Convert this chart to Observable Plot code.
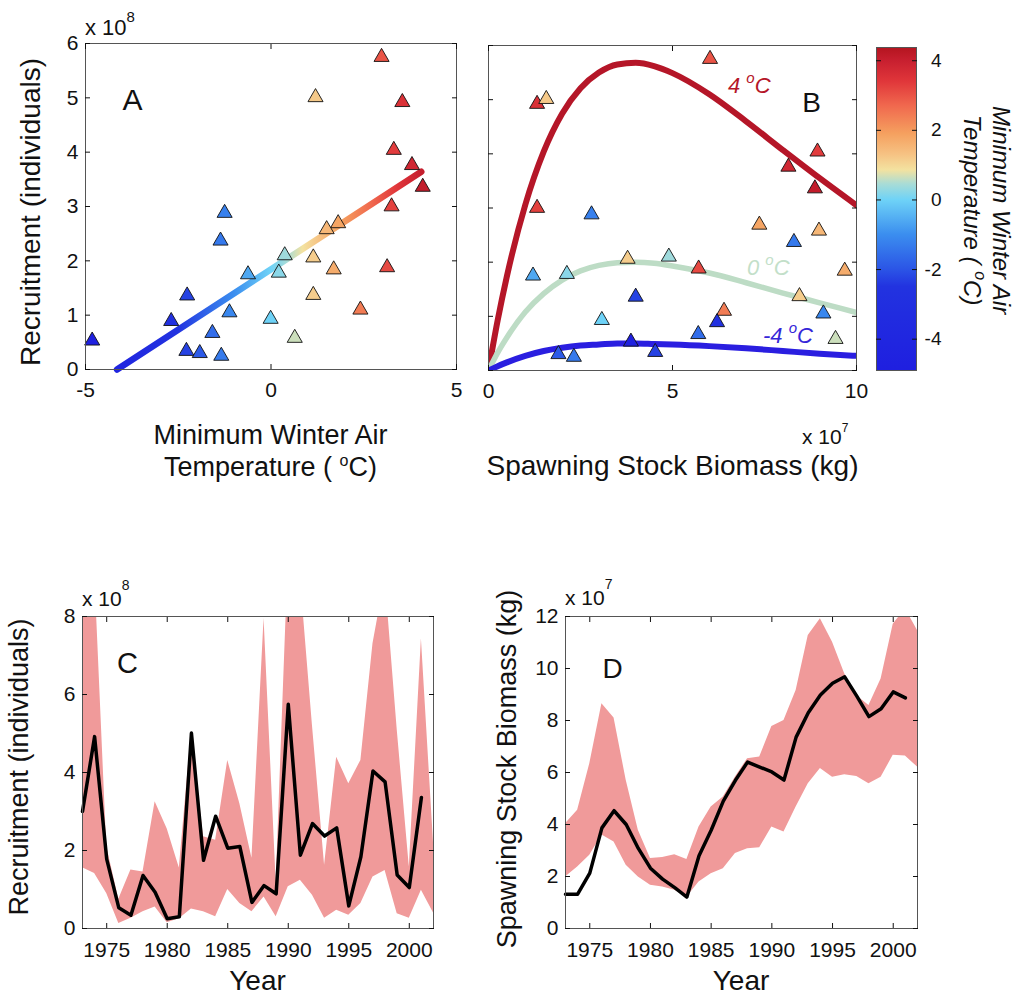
<!DOCTYPE html>
<html><head><meta charset="utf-8">
<script src="https://cdn.jsdelivr.net/npm/d3@7"></script>
<script src="https://cdn.jsdelivr.net/npm/@observablehq/plot@0.6"></script>
<style>
body{margin:0;background:#fff;}
#fig{position:relative;width:1017px;height:998px;overflow:hidden;background:#fff;}
.pl{position:absolute;}
</style></head>
<body><div id="fig"></div>
<script>
// ---------- data ----------
const years   = [1973,1974,1975,1976,1977,1978,1979,1980,1981,1982,1983,1984,1985,1986,1987,1988,1989,1990,1991,1992,1993,1994,1995,1996,1997,1998,1999,2000,2001];
// recruitment (x 10^8 individuals)
const recruit = [3.00,4.92,1.78,0.53,0.34,1.36,0.93,0.25,0.30,5.01,1.75,2.88,2.06,2.10,0.67,1.10,0.89,5.75,1.88,2.69,2.37,2.58,0.58,1.84,4.04,3.76,1.37,1.05,3.36];
// spawning stock biomass (x 10^7 kg)
const ssb     = [1.32,1.32,2.13,3.87,4.53,4.00,3.08,2.32,1.90,1.57,1.21,2.80,3.78,4.90,5.70,6.40,6.21,6.02,5.71,7.36,8.30,8.98,9.43,9.68,8.94,8.15,8.45,9.10,8.87];
// minimum winter air temperature (deg C)
const temp    = [3.25,3.54,0.21,-4.82,-2.28,-2.26,-0.01,-1.34,-1.92,1.20,-0.62,-1.25,1.14,0.37,-1.58,2.41,-2.69,2.98,3.13,1.81,-1.36,1.50,0.64,1.69,3.31,3.80,1.14,-1.12,4.09];

// uncertainty bands (panels C and D)
const bandYears = [1973,1974,1975,1976,1977,1978,1979,1980,1981,1982,1983,1984,1985,1986,1987,1988,1989,1990,1991,1992,1993,1994,1995,1996,1997,1998,1999,2000,2001,2002];
const recLo = [1.56,1.41,0.90,0.13,0.26,0.43,0.55,0.15,0.25,0.50,0.43,0.30,1.00,0.64,0.43,0.81,0.30,1.07,1.24,0.85,0.26,0.47,0.34,0.64,1.32,1.49,0.38,0.26,0.98,0.40];
const recHi = [9.50,9.20,2.10,0.75,1.50,1.45,3.25,2.55,1.55,5.05,2.35,2.26,4.31,3.20,1.80,7.95,1.20,9.50,9.00,5.20,1.62,4.39,3.71,4.31,7.30,9.00,5.10,1.58,7.43,2.20];
const ssbLo = [1.98,2.37,2.82,3.60,3.33,2.43,1.98,1.66,1.60,1.47,1.20,1.79,2.11,2.30,2.88,3.07,3.11,3.90,3.71,4.67,5.57,6.15,5.82,5.91,5.85,5.57,5.82,6.66,6.63,6.21];
const ssbHi = [4.03,4.55,6.34,8.64,8.10,5.70,3.78,2.69,2.73,2.84,2.65,3.90,4.67,5.06,5.83,6.53,6.60,7.77,8.00,9.15,11.27,11.91,11.01,9.80,8.95,8.58,9.60,11.70,12.30,11.46];

// stock-recruitment curves (panel B)
const ssbGrid = [0,0.25,0.5,1,1.5,2,2.5,3,3.5,4,4.5,5,6,7,8,9,10];
const rec4C   = [0,0.93,1.74,3.06,4.04,4.74,5.21,5.50,5.65,5.68,5.62,5.49,5.10,4.60,4.07,3.55,3.05];
const rec0C   = [0,0.33,0.61,1.08,1.42,1.67,1.84,1.94,1.99,2.00,1.98,1.93,1.80,1.62,1.43,1.25,1.07];
const recM4C  = [0,0.08,0.15,0.27,0.36,0.42,0.46,0.48,0.50,0.50,0.49,0.48,0.45,0.41,0.36,0.31,0.27];

// temperature-recruitment fit (panel A)
const lineTemp = [-4.15, 4.05];
const lineRec  = [0.00, 3.64];

// colour map
const tStops  = [-4.9,-2.5,-2.0,-1.0,0.0,0.45,0.85,1.3,1.9,2.7,3.4,4.0,4.38];
const tColors = ["#1f1fe0","#2233e0","#2b55e6","#3b8eef","#6fd3f7","#a9dcd6","#f3e2a0","#f6c283","#f5a05f","#f0684e","#e0363a","#c71f2f","#b3141f"];

// tick values
const ticksA_x = [-5,0,5], ticksAB_y = [0,1,2,3,4,5,6], ticksB_x = [0,5,10];
const ticksCb = [-4,-2,0,2,4];
const ticksYear = [1975,1980,1985,1990,1995,2000];
const ticksC_y = [0,2,4,6,8], ticksD_y = [0,2,4,6,8,10,12];

// ---------- helpers ----------
const font = "'Liberation Sans', Arial, Helvetica, sans-serif";
const style = fs => ({fontFamily: font, fontSize: fs + "px", color: "#111", background: "transparent", overflow: "visible"});
const colorOpts = {type: "linear", domain: tStops, range: tColors, interpolate: "rgb"};
const cScale = Plot.scale({color: colorOpts});
const obs = years.map((y, i) => ({year: y, rec: recruit[i], ssb: ssb[i], temp: temp[i]}));
const blank = () => "";

function boxTicks(xt, yt) {
  const m = [];
  if (xt) {
    m.push(Plot.axisX(xt, {anchor: "bottom", tickSize: -5, tickFormat: blank, label: null}));
    m.push(Plot.axisX(xt, {anchor: "top", tickSize: -5, tickFormat: blank, label: null}));
  }
  if (yt) {
    m.push(Plot.axisY(yt, {anchor: "left", tickSize: -5, tickFormat: blank, label: null}));
    m.push(Plot.axisY(yt, {anchor: "right", tickSize: -5, tickFormat: blank, label: null}));
  }
  return m;
}
function xLabels(xt, pad, fmt) { return Plot.axisX(xt, {anchor: "bottom", tickSize: 0, tickPadding: pad, label: null, tickFormat: fmt || (d => String(d))}); }
function yLabels(yt, pad) { return Plot.axisY(yt, {anchor: "left", tickSize: 0, tickPadding: pad, label: null, tickFormat: d => String(d)}); }

function gradX(id, t0, t1) {
  return (index, scales) => {
    const defs = d3.create("svg:defs");
    const lg = defs.append("linearGradient").attr("id", id).attr("gradientUnits", "userSpaceOnUse")
      .attr("x1", scales.x(t0)).attr("x2", scales.x(t1)).attr("y1", 0).attr("y2", 0);
    const ts = [t0, ...tStops.filter(t => t > t0 && t < t1), t1];
    ts.forEach(t => lg.append("stop").attr("offset", (t - t0) / (t1 - t0)).attr("stop-color", cScale.apply(t)));
    return defs.node();
  };
}

const fig = document.getElementById("fig");
function place(node, left, top) {
  const d = document.createElement("div");
  d.className = "pl"; d.style.left = left + "px"; d.style.top = top + "px";
  d.appendChild(node); fig.appendChild(d);
}

// ---------- Panel A ----------
place(Plot.plot({
  width: 470, height: 400, marginLeft: 85, marginRight: 14, marginTop: 43, marginBottom: 31,
  style: style(21),
  x: {domain: [-5, 5], label: null},
  y: {domain: [0, 6], label: null},
  color: colorOpts,
  marks: [
    gradX("gradA", lineTemp[0], lineTemp[lineTemp.length - 1]),
    Plot.line(lineTemp, {x: lineTemp, y: lineRec, stroke: "url(#gradA)", strokeWidth: 6.5, strokeLinecap: "round"}),
    Plot.dot(obs, {x: "temp", y: "rec", fill: "temp", symbol: "triangle", r: 5.6, stroke: "#111", strokeWidth: 0.9}),
    Plot.frame({stroke: "#555"}),
    ...boxTicks(ticksA_x, ticksAB_y),
    xLabels(ticksA_x, 13),
    yLabels(ticksAB_y, 7)
  ]
}), 0, 0);

// ---------- Panel B ----------
place(Plot.plot({
  width: 400, height: 400, marginLeft: 18, marginRight: 14, marginTop: 45, marginBottom: 30,
  style: style(21),
  x: {domain: [0, 10], label: null},
  y: {domain: [0, 6], label: null},
  color: colorOpts,
  marks: [
    Plot.line(ssbGrid, {x: ssbGrid, y: rec4C, stroke: "#b51628", strokeWidth: 6, curve: "monotone-x", clip: true}),
    Plot.line(ssbGrid, {x: ssbGrid, y: rec0C, stroke: "#bddcc5", strokeWidth: 5.5, curve: "monotone-x", clip: true}),
    Plot.line(ssbGrid, {x: ssbGrid, y: recM4C, stroke: "#2a1ee0", strokeWidth: 6, curve: "monotone-x", clip: true}),
    Plot.dot(obs, {x: "ssb", y: "rec", fill: "temp", symbol: "triangle", r: 5.6, stroke: "#111", strokeWidth: 0.9}),
    Plot.frame({stroke: "#555"}),
    ...boxTicks(ticksB_x, ticksAB_y),
    xLabels(ticksB_x, 13)
  ]
}), 470, 0);

// ---------- Colour bar ----------
const tMin = tStops[0], tMax = tStops[tStops.length - 1];
place(Plot.plot({
  width: 157, height: 400, marginLeft: 16, marginRight: 101, marginTop: 47, marginBottom: 30,
  style: style(19),
  y: {domain: [tMin, tMax], label: null},
  marks: [
    (index, scales, values, dims) => {
      const g = d3.create("svg:g");
      const lg = g.append("defs").append("linearGradient").attr("id", "gradCb").attr("gradientUnits", "userSpaceOnUse")
        .attr("x1", 0).attr("x2", 0).attr("y1", scales.y(tMin)).attr("y2", scales.y(tMax));
      tStops.forEach(t => lg.append("stop").attr("offset", (t - tMin) / (tMax - tMin)).attr("stop-color", cScale.apply(t)));
      g.append("rect").attr("x", dims.marginLeft).attr("width", dims.width - dims.marginLeft - dims.marginRight)
        .attr("y", scales.y(tMax)).attr("height", scales.y(tMin) - scales.y(tMax)).attr("fill", "url(#gradCb)");
      return g.node();
    },
    Plot.frame({stroke: "#555"}),
    ...boxTicks(null, ticksCb),
    Plot.axisY(ticksCb, {anchor: "right", tickSize: 0, tickPadding: 25, textAnchor: "end", label: null, tickFormat: d => String(d)})
  ]
}), 860, 0);

// ---------- Panel C ----------
const pink = "#f09a9a";
place(Plot.plot({
  width: 450, height: 420, marginLeft: 82, marginRight: 17, marginTop: 56, marginBottom: 52,
  style: style(21),
  x: {domain: [1973, 2002], label: null},
  y: {domain: [0, 8], label: null},
  marks: [
    Plot.areaY(bandYears, {x: bandYears, y1: recLo, y2: recHi, fill: pink, clip: true}),
    Plot.line(years, {x: years, y: recruit, stroke: "#000", strokeWidth: 3.5}),
    Plot.frame({stroke: "#555"}),
    ...boxTicks(ticksYear, ticksC_y),
    xLabels(ticksYear, 14),
    yLabels(ticksC_y, 7)
  ]
}), 0, 560);

// ---------- Panel D ----------
place(Plot.plot({
  width: 460, height: 420, marginLeft: 85, marginRight: 23, marginTop: 56, marginBottom: 52,
  style: style(21),
  x: {domain: [1973, 2002], label: null},
  y: {domain: [0, 12], label: null},
  marks: [
    Plot.areaY(bandYears, {x: bandYears, y1: ssbLo, y2: ssbHi, fill: pink, clip: true}),
    Plot.line(years, {x: years, y: ssb, stroke: "#000", strokeWidth: 3.5}),
    Plot.frame({stroke: "#555"}),
    ...boxTicks(ticksYear, ticksD_y),
    xLabels(ticksYear, 14),
    yLabels(ticksD_y, 7)
  ]
}), 480, 560);

// ---------- text overlay ----------
const overlay = d3.select(fig).append("svg").attr("width", 1017).attr("height", 998)
  .style("position", "absolute").style("left", 0).style("top", 0).style("pointer-events", "none")
  .style("font-family", font);
function label(x, y, parts, o = {}) {
  const t = overlay.append("text")
    .attr("transform", `translate(${x},${y})` + (o.rotate ? ` rotate(${o.rotate})` : ""))
    .attr("text-anchor", o.anchor || "middle").attr("font-size", o.size || 28)
    .attr("fill", o.fill || "#111").attr("font-style", o.italic ? "italic" : null);
  let cur = 0;
  for (const p of parts) {
    const off = typeof p === "string" ? 0 : -p.rise;
    const ts = t.append("tspan").text(typeof p === "string" ? p : p.sup);
    if (off !== cur) ts.attr("dy", off - cur);
    if (typeof p !== "string") ts.attr("font-size", p.size);
    cur = off;
  }
}
// multipliers
label(85, 35, ["x 10", {sup: "8", size: 15, rise: 13}], {anchor: "start", size: 22});
label(802, 444, ["x 10", {sup: "7", size: 12, rise: 12}], {anchor: "start", size: 21});
label(82, 606, ["x 10", {sup: "8", size: 14, rise: 16}], {anchor: "start", size: 21});
label(565, 605, ["x 10", {sup: "7", size: 14, rise: 16}], {anchor: "start", size: 21});
// axis titles
label(270.5, 444, ["Minimum Winter Air"], {size: 27});
label(270.5, 476, ["Temperature ( ", {sup: "o", size: 16, rise: 10}, "C)"], {size: 27});
label(672.5, 475, ["Spawning Stock Biomass (kg)"], {size: 28});
label(257.5, 990, ["Year"], {size: 28});
label(741, 990, ["Year"], {size: 28});
label(40, 212, ["Recruitment (individuals)"], {size: 28, rotate: -90});
label(28, 767, ["Recruitment (individuals)"], {size: 27, rotate: -90});
label(516, 769, ["Spawning Stock Biomass (kg)"], {size: 27, rotate: -90});
// colour bar title
label(993, 210, ["Minimum Winter Air"], {size: 24, rotate: 90, italic: true});
label(964, 210, ["Temperature ( ", {sup: "o", size: 16, rise: 11}, "C)"], {size: 24, rotate: 90, italic: true});
// panel letters
label(132.5, 110, ["A"], {size: 30});
label(811.7, 111.7, ["B"], {size: 28});
label(127.5, 673, ["C"], {size: 29});
label(612.5, 678, ["D"], {size: 28});
// curve labels
label(728, 93, ["4 ", {sup: "o", size: 15, rise: 10}, "C"], {anchor: "start", size: 22, italic: true, fill: "#b51628"});
label(747, 275, ["0 ", {sup: "o", size: 15, rise: 10}, "C"], {anchor: "start", size: 22, italic: true, fill: "#c3dfc9"});
label(763, 343, ["-4 ", {sup: "o", size: 15, rise: 10}, "C"], {anchor: "start", size: 22, italic: true, fill: "#3526d8"});
</script>
</body></html>
